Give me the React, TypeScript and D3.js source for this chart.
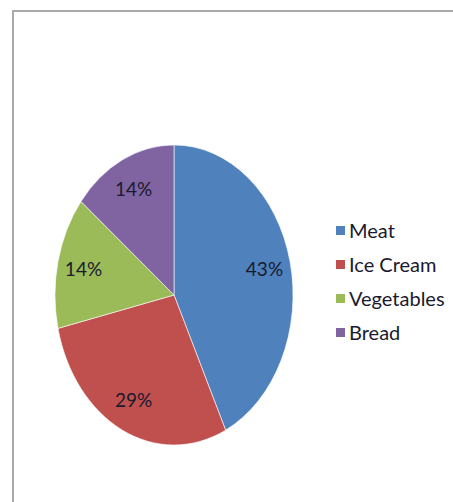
import React from "react";
import * as d3 from "d3";

const categories = ["Meat", "Ice Cream", "Vegetables", "Bread"];
const values = [3, 2, 1, 1];
const percentLabels = ["43%", "29%", "14%", "14%"];
const colors = ["#4F81BD", "#C0504D", "#9BBB59", "#8064A2"];

const W = 453;
const H = 502;
const cx = 174;
const cy = 295;
const rx = 119;
const ry = 150;
const FONT = "Lato, 'Liberation Sans', Arial, sans-serif";

export default function App() {
  const pie = d3.pie<number>().sort(null).value((d) => d);
  const arcs = pie(values);
  const arc = d3.arc<d3.PieArcDatum<number>>().innerRadius(0).outerRadius(rx);
  const labelR = 0.78;
  const legendY = d3.scalePoint<string>().domain(categories).range([231, 333]);

  return (
    <svg width={W} height={H} style={{ position: "absolute", left: 0, top: 0, background: "#fff" }}>
      <rect x={0} y={0} width={W} height={H} fill="#fff" />
      <line x1={13} y1={10} x2={13} y2={H} stroke="#a9a9a9" strokeWidth={2} />
      <line x1={12} y1={11} x2={W} y2={11} stroke="#a9a9a9" strokeWidth={2} />
      <g transform={`translate(${cx},${cy}) scale(1,${ry / rx})`}>
        {arcs.map((a, i) => (
          <path key={i} d={arc(a) || ""} fill={colors[i]} stroke="#ffffff" strokeWidth={0.6} vectorEffect="non-scaling-stroke" />
        ))}
      </g>
      {arcs.map((a, i) => {
        const mid = (a.startAngle + a.endAngle) / 2;
        const x = cx + Math.sin(mid) * rx * labelR;
        const y = cy - Math.cos(mid) * ry * labelR;
        return (
          <text key={i} x={x} y={y} dy="0.35em" textAnchor="middle" fontFamily={FONT} fontSize={19} fill="#1a1a2e">
            {percentLabels[i]}
          </text>
        );
      })}
      {categories.map((c, i) => {
        const y = legendY(c) as number;
        return (
          <g key={c}>
            <rect x={336} y={y - 5} width={9} height={9} fill={colors[i]} />
            <text x={349} y={y} dy="0.35em" fontFamily={FONT} fontSize={20} fill="#1a1a2e">
              {c}
            </text>
          </g>
        );
      })}
    </svg>
  );
}
